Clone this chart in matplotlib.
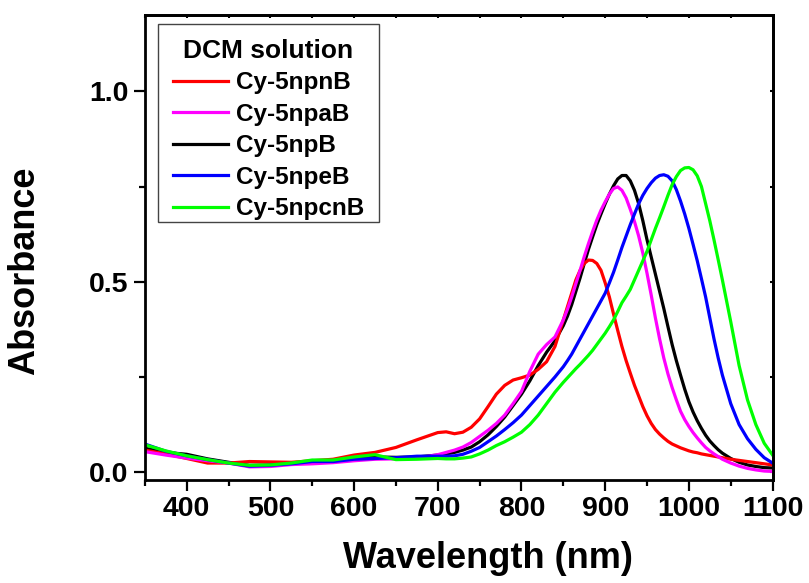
import matplotlib
matplotlib.use("Agg")
import matplotlib.pyplot as plt
from matplotlib.patches import Rectangle
from matplotlib.ticker import MultipleLocator

plt.rcParams["font.family"] = ["Liberation Sans", "DejaVu Sans"]
plt.rcParams["font.weight"] = "bold"

# UV-vis-NIR absorption spectra in DCM (finer sampling across the NIR bands)
wavelength = [350, 375, 400, 425, 450, 475, 500, 525, 550, 575, 600, 625, 650, 675,
              700, 710, 720, 730, 740, 750, 760, 770, 780, 790, 800, 810, 820, 830, 840,
              850, 855, 860, 865, 870, 875, 880, 885, 890, 895,
              900, 905, 910, 915, 920, 925, 930, 935, 940, 945,
              950, 955, 960, 965, 970, 975, 980, 985, 990, 995,
              1000, 1005, 1010, 1015, 1020, 1025, 1030, 1035, 1040,
              1050, 1060, 1070, 1080, 1090, 1100]

abs_npnB = [0.058, 0.048, 0.036, 0.024, 0.024, 0.028, 0.027, 0.026, 0.030, 0.034, 0.045, 0.052, 0.065, 0.085,
            0.104, 0.106, 0.101, 0.105, 0.118, 0.140, 0.172, 0.205, 0.228, 0.242, 0.248, 0.255, 0.270, 0.290, 0.330,
            0.400, 0.435, 0.470, 0.505, 0.530, 0.548, 0.557, 0.556, 0.548, 0.530,
            0.497, 0.460, 0.415, 0.372, 0.330, 0.293, 0.260, 0.228, 0.200, 0.172,
            0.148, 0.128, 0.112, 0.100, 0.090, 0.081, 0.074, 0.069, 0.064, 0.060,
            0.056, 0.053, 0.051, 0.048, 0.046, 0.044, 0.042, 0.040, 0.038,
            0.034, 0.031, 0.028, 0.025, 0.022, 0.019]

abs_npaB = [0.054, 0.045, 0.037, 0.030, 0.024, 0.014, 0.015, 0.020, 0.022, 0.025, 0.030, 0.034, 0.035, 0.037,
            0.046, 0.052, 0.058, 0.066, 0.078, 0.094, 0.110, 0.128, 0.150, 0.180, 0.212, 0.265, 0.310, 0.335, 0.355,
            0.400, 0.428, 0.460, 0.495, 0.530, 0.566, 0.600, 0.632, 0.662, 0.688,
            0.710, 0.730, 0.745, 0.749, 0.740, 0.720, 0.690, 0.658, 0.620, 0.575,
            0.522, 0.465, 0.405, 0.350, 0.300, 0.258, 0.222, 0.190, 0.160, 0.138,
            0.120, 0.104, 0.090, 0.077, 0.065, 0.056, 0.048, 0.041, 0.034,
            0.024, 0.016, 0.010, 0.006, 0.003, 0.002]

abs_npB = [0.063, 0.052, 0.047, 0.035, 0.026, 0.018, 0.019, 0.022, 0.026, 0.028, 0.037, 0.040, 0.039, 0.040,
           0.045, 0.048, 0.052, 0.058, 0.066, 0.080, 0.098, 0.120, 0.145, 0.175, 0.205, 0.240, 0.280, 0.315, 0.345,
           0.385, 0.410, 0.440, 0.475, 0.510, 0.548, 0.585, 0.618, 0.650, 0.678,
           0.705, 0.730, 0.752, 0.770, 0.779, 0.779, 0.765, 0.740, 0.705, 0.660,
           0.610, 0.565, 0.520, 0.475, 0.430, 0.382, 0.335, 0.293, 0.255, 0.218,
           0.185, 0.158, 0.135, 0.115, 0.097, 0.082, 0.070, 0.059, 0.050,
           0.036, 0.026, 0.019, 0.015, 0.012, 0.011]

abs_npeB = [0.074, 0.055, 0.043, 0.033, 0.024, 0.016, 0.018, 0.022, 0.028, 0.028, 0.034, 0.036, 0.038, 0.042,
            0.042, 0.042, 0.043, 0.047, 0.055, 0.065, 0.080, 0.095, 0.112, 0.130, 0.150, 0.175, 0.200, 0.225, 0.250,
            0.277, 0.293, 0.310, 0.330, 0.350, 0.370, 0.390, 0.410, 0.430, 0.450,
            0.470, 0.497, 0.525, 0.557, 0.590, 0.620, 0.650, 0.678, 0.705, 0.727,
            0.745, 0.760, 0.772, 0.779, 0.781, 0.777, 0.765, 0.742, 0.712, 0.678,
            0.640, 0.598, 0.555, 0.508, 0.460, 0.405, 0.350, 0.300, 0.255,
            0.180, 0.125, 0.088, 0.060, 0.038, 0.024]

abs_npcnB = [0.072, 0.056, 0.043, 0.033, 0.024, 0.018, 0.019, 0.024, 0.032, 0.032, 0.040, 0.046, 0.033, 0.034,
             0.036, 0.035, 0.035, 0.037, 0.040, 0.048, 0.058, 0.070, 0.080, 0.092, 0.105, 0.125, 0.150, 0.180, 0.210,
             0.236, 0.248, 0.260, 0.272, 0.283, 0.295, 0.307, 0.320, 0.335, 0.350,
             0.365, 0.382, 0.400, 0.422, 0.445, 0.462, 0.480, 0.505, 0.530, 0.555,
             0.580, 0.610, 0.640, 0.668, 0.697, 0.727, 0.755, 0.776, 0.792, 0.799,
             0.800, 0.794, 0.778, 0.750, 0.705, 0.660, 0.610, 0.558, 0.505,
             0.395, 0.280, 0.190, 0.125, 0.076, 0.045]

labels = ["Cy-5npnB", "Cy-5npaB", "Cy-5npB", "Cy-5npeB", "Cy-5npcnB"]
colors = ["#ff0000", "#ff00ff", "#000000", "#0000ff", "#00ff00"]
series = [abs_npnB, abs_npaB, abs_npB, abs_npeB, abs_npcnB]
# black goes underneath so the magenta trace stays visible where they overlap
zorders = [2.1, 2.2, 2.0, 2.3, 2.4]

fig = plt.figure(figsize=(8.09, 5.83), dpi=100)
ax = fig.add_axes([0.179, 0.177, 0.776, 0.797])

handles = []
for y, c, lab, z in zip(series, colors, labels, zorders):
    (ln,) = ax.plot(wavelength, y, color=c, lw=2.3, label=lab, zorder=z,
                    solid_joinstyle="round")
    handles.append(ln)

ax.set_xlim(350, 1100)
ax.set_ylim(-0.02, 1.2)
ax.xaxis.set_major_locator(MultipleLocator(100))
ax.xaxis.set_minor_locator(MultipleLocator(50))
ax.yaxis.set_major_locator(MultipleLocator(0.5))
ax.yaxis.set_minor_locator(MultipleLocator(0.25))
ax.tick_params(which="major", direction="out", length=8, width=1.6,
               labelsize=20.5, pad=4)
ax.tick_params(which="minor", direction="out", length=4.5, width=1.6)
for s in ax.spines.values():
    s.set_linewidth(2.0)

# short inward ticks on the top and right frame
top = ax.secondary_xaxis("top")
top.xaxis.set_major_locator(MultipleLocator(100))
top.xaxis.set_minor_locator(MultipleLocator(50))
top.tick_params(which="both", direction="in", length=2.5, width=1.5, labeltop=False)
top.spines["top"].set_linewidth(2.0)
right = ax.secondary_yaxis("right")
right.yaxis.set_major_locator(MultipleLocator(0.5))
right.yaxis.set_minor_locator(MultipleLocator(0.25))
right.tick_params(which="both", direction="in", length=2.5, width=1.5, labelright=False)
right.spines["right"].set_linewidth(2.0)

ax.set_xlabel("Wavelength (nm)", fontsize=26, fontweight="bold", labelpad=13)
ax.xaxis.label.set_x(0.546)
ax.set_ylabel("Absorbance", fontsize=26, fontweight="bold")
ax.yaxis.set_label_coords(-0.164, 0.449)

# legend box drawn separately so the bottom padding stays tight
ax.add_patch(Rectangle((0.0212, 0.5548), 0.3523, 0.4258, transform=ax.transAxes,
                       facecolor="white", edgecolor="#444444", lw=1.0, zorder=4))
leg = ax.legend(handles, labels, title="DCM solution", loc="upper left",
                bbox_to_anchor=(0.021, 0.981), borderaxespad=0, frameon=False,
                prop={"weight": "bold", "size": 17.5},
                title_fontproperties={"weight": "bold", "size": 19},
                handlelength=2.3, handletextpad=0.3, labelspacing=0.35,
                borderpad=0.6)
leg.set_zorder(5)

fig.savefig("out.png", dpi=100)
